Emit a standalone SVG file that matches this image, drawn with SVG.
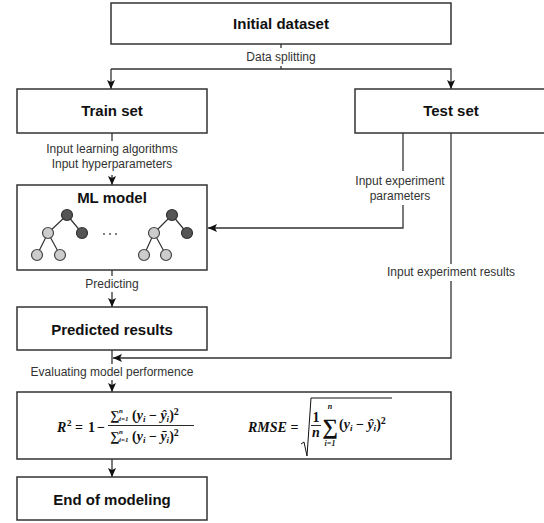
<svg xmlns="http://www.w3.org/2000/svg" width="544" height="523" viewBox="0 0 544 523">
<style>
.box{fill:#fff;stroke:#333;stroke-width:1.5}
.title{font-family:"Liberation Sans",Arial,sans-serif;font-weight:bold;font-size:15px;fill:#111;text-anchor:middle}
.lbl{font-family:"Liberation Sans",Arial,sans-serif;font-size:12px;fill:#333;text-anchor:middle}
.ln{fill:none;stroke:#333;stroke-width:1.3}
.edge{stroke:#333;stroke-width:1.2}
.dk{fill:#555;stroke:#333;stroke-width:1.2}
.lt{fill:#ccc;stroke:#444;stroke-width:1.2}
.m{font-family:"Liberation Serif","DejaVu Serif",serif;font-weight:bold;fill:#111}
.mi{font-style:italic}
</style>
<defs>
<marker id="ah" markerWidth="10" markerHeight="8" refX="9" refY="4" orient="auto" markerUnits="userSpaceOnUse">
<path d="M0,0 L9,4 L0,8 L2,4 z" fill="#111"/>
</marker>
</defs>
<rect width="544" height="523" fill="#fff"/>

<g id="connectors">
<path class="ln" d="M281,44 V48 M281,66 V69"/>
<path class="ln" d="M111,69 H451 V89" marker-end="url(#ah)"/>
<path class="ln" d="M111,69 V89" marker-end="url(#ah)"/>
<path class="ln" d="M112,133 V141"/>
<path class="ln" d="M112,175 V185" marker-end="url(#ah)"/>
<path class="ln" d="M403,133 V171"/>
<path class="ln" d="M403,205 V228 H208" marker-end="url(#ah)"/>
<path class="ln" d="M451,133 V264"/>
<path class="ln" d="M451,281 V358 H113" marker-end="url(#ah)"/>
<path class="ln" d="M112,270 V276"/>
<path class="ln" d="M112,292 V307" marker-end="url(#ah)"/>
<path class="ln" d="M112,350 V364"/>
<path class="ln" d="M112,380 V392" marker-end="url(#ah)"/>
<path class="ln" d="M112,459 V477" marker-end="url(#ah)"/>
</g>

<g id="labels">
<text class="lbl" x="281" y="61">Data splitting</text>
<text class="lbl" x="112" y="153">Input learning algorithms</text>
<text class="lbl" x="112" y="168">Input hyperparameters</text>
<text class="lbl" x="400" y="185">Input experiment</text>
<text class="lbl" x="400" y="200">parameters</text>
<text class="lbl" x="451" y="276">Input experiment results</text>
<text class="lbl" x="112" y="288">Predicting</text>
<text class="lbl" x="112" y="376">Evaluating model performence</text>
</g>

<g id="initial-dataset">
<rect class="box" x="111" y="3" width="340" height="41"/>
<text class="title" x="281" y="29">Initial dataset</text>
</g>

<g id="train-set">
<rect class="box" x="17" y="89" width="190" height="44"/>
<text class="title" x="112" y="116">Train set</text>
</g>

<g id="test-set">
<rect class="box" x="355" y="89" width="192" height="44"/>
<text class="title" x="451" y="116">Test set</text>
</g>

<g id="ml-model">
<rect class="box" x="17" y="185" width="190" height="85"/>
<text class="title" x="112" y="203">ML model</text>
<g id="tree-left">
<path class="edge" d="M67,215 L48,233 M67,215 L82,233 M48,233 L37,255 M48,233 L60,255"/>
<circle class="dk" cx="67" cy="215" r="5.5"/>
<circle class="lt" cx="48" cy="233" r="5.5"/>
<circle class="dk" cx="82" cy="233" r="5.5"/>
<circle class="lt" cx="37" cy="255" r="5.5"/>
<circle class="lt" cx="60" cy="255" r="5.5"/>
</g>
<g id="dots" fill="#444">
<circle cx="104" cy="234" r="0.9"/>
<circle cx="110" cy="234" r="0.9"/>
<circle cx="116" cy="234" r="0.9"/>
</g>
<g id="tree-right">
<path class="edge" d="M172,215 L154,233 M172,215 L187,233 M154,233 L144,255 M154,233 L166,255"/>
<circle class="dk" cx="172" cy="215" r="5.5"/>
<circle class="lt" cx="154" cy="233" r="5.5"/>
<circle class="dk" cx="187" cy="233" r="5.5"/>
<circle class="lt" cx="144" cy="255" r="5.5"/>
<circle class="lt" cx="166" cy="255" r="5.5"/>
</g>
</g>

<g id="predicted-results">
<rect class="box" x="17" y="307" width="190" height="43"/>
<text class="title" x="112" y="335">Predicted results</text>
</g>

<g id="evaluation">
<rect class="box" x="17" y="392" width="434" height="67"/>
<g id="r2">
<text class="m mi" font-size="14" x="57" y="432">R</text>
<text class="m" font-size="9" x="67" y="426">2</text>
<text class="m" font-size="14" x="75" y="432">=</text>
<text class="m" font-size="14" x="88" y="432">1</text>
<text class="m" font-size="14" x="97" y="432">−</text>
<text class="m" font-size="13" x="110" y="420">∑</text>
<text class="m mi" font-size="7" x="119" y="413">n</text>
<text class="m mi" font-size="7" x="119" y="421">i=1</text>
<text class="m" font-size="14" x="132" y="420">(<tspan class="mi">y</tspan><tspan class="mi" font-size="9" dy="2">i</tspan><tspan dy="-2"> − </tspan><tspan class="mi">ŷ</tspan><tspan class="mi" font-size="9" dy="2">i</tspan><tspan dy="-2">)</tspan><tspan font-size="10" dy="-5">2</tspan></text>
<line x1="108" y1="425.5" x2="194" y2="425.5" stroke="#111" stroke-width="0.9"/>
<text class="m" font-size="13" x="110" y="441">∑</text>
<text class="m mi" font-size="7" x="119" y="434">n</text>
<text class="m mi" font-size="7" x="119" y="442">i=1</text>
<text class="m" font-size="14" x="132" y="441">(<tspan class="mi">y</tspan><tspan class="mi" font-size="9" dy="2">i</tspan><tspan dy="-2"> − </tspan><tspan class="mi">ȳ</tspan><tspan class="mi" font-size="9" dy="2">i</tspan><tspan dy="-2">)</tspan><tspan font-size="10" dy="-5">2</tspan></text>
</g>
<g id="rmse">
<text class="m" font-size="14" x="248" y="432"><tspan class="mi">RMSE</tspan> =</text>
<path d="M301,444 L304,442 L307,456 L311,398 H392" fill="none" stroke="#111" stroke-width="1"/>
<text class="m" font-size="14" x="316" y="422" text-anchor="middle">1</text>
<line x1="311" y1="425.5" x2="321" y2="425.5" stroke="#111" stroke-width="0.9"/>
<text class="m mi" font-size="14" x="316" y="437" text-anchor="middle">n</text>
<text class="m mi" font-size="8" x="330" y="409" text-anchor="middle">n</text>
<text class="m" font-size="22" x="330" y="434" text-anchor="middle">∑</text>
<text class="m mi" font-size="8" x="330" y="446" text-anchor="middle">i=1</text>
<text class="m" font-size="14" x="339" y="429">(<tspan class="mi">y</tspan><tspan class="mi" font-size="9" dy="2">i</tspan><tspan dy="-2"> − </tspan><tspan class="mi">ŷ</tspan><tspan class="mi" font-size="9" dy="2">i</tspan><tspan dy="-2">)</tspan><tspan font-size="10" dy="-5">2</tspan></text>
</g>
</g>

<g id="end-of-modeling">
<rect class="box" x="17" y="477" width="190" height="43"/>
<text class="title" x="112" y="505">End of modeling</text>
</g>
</svg>
